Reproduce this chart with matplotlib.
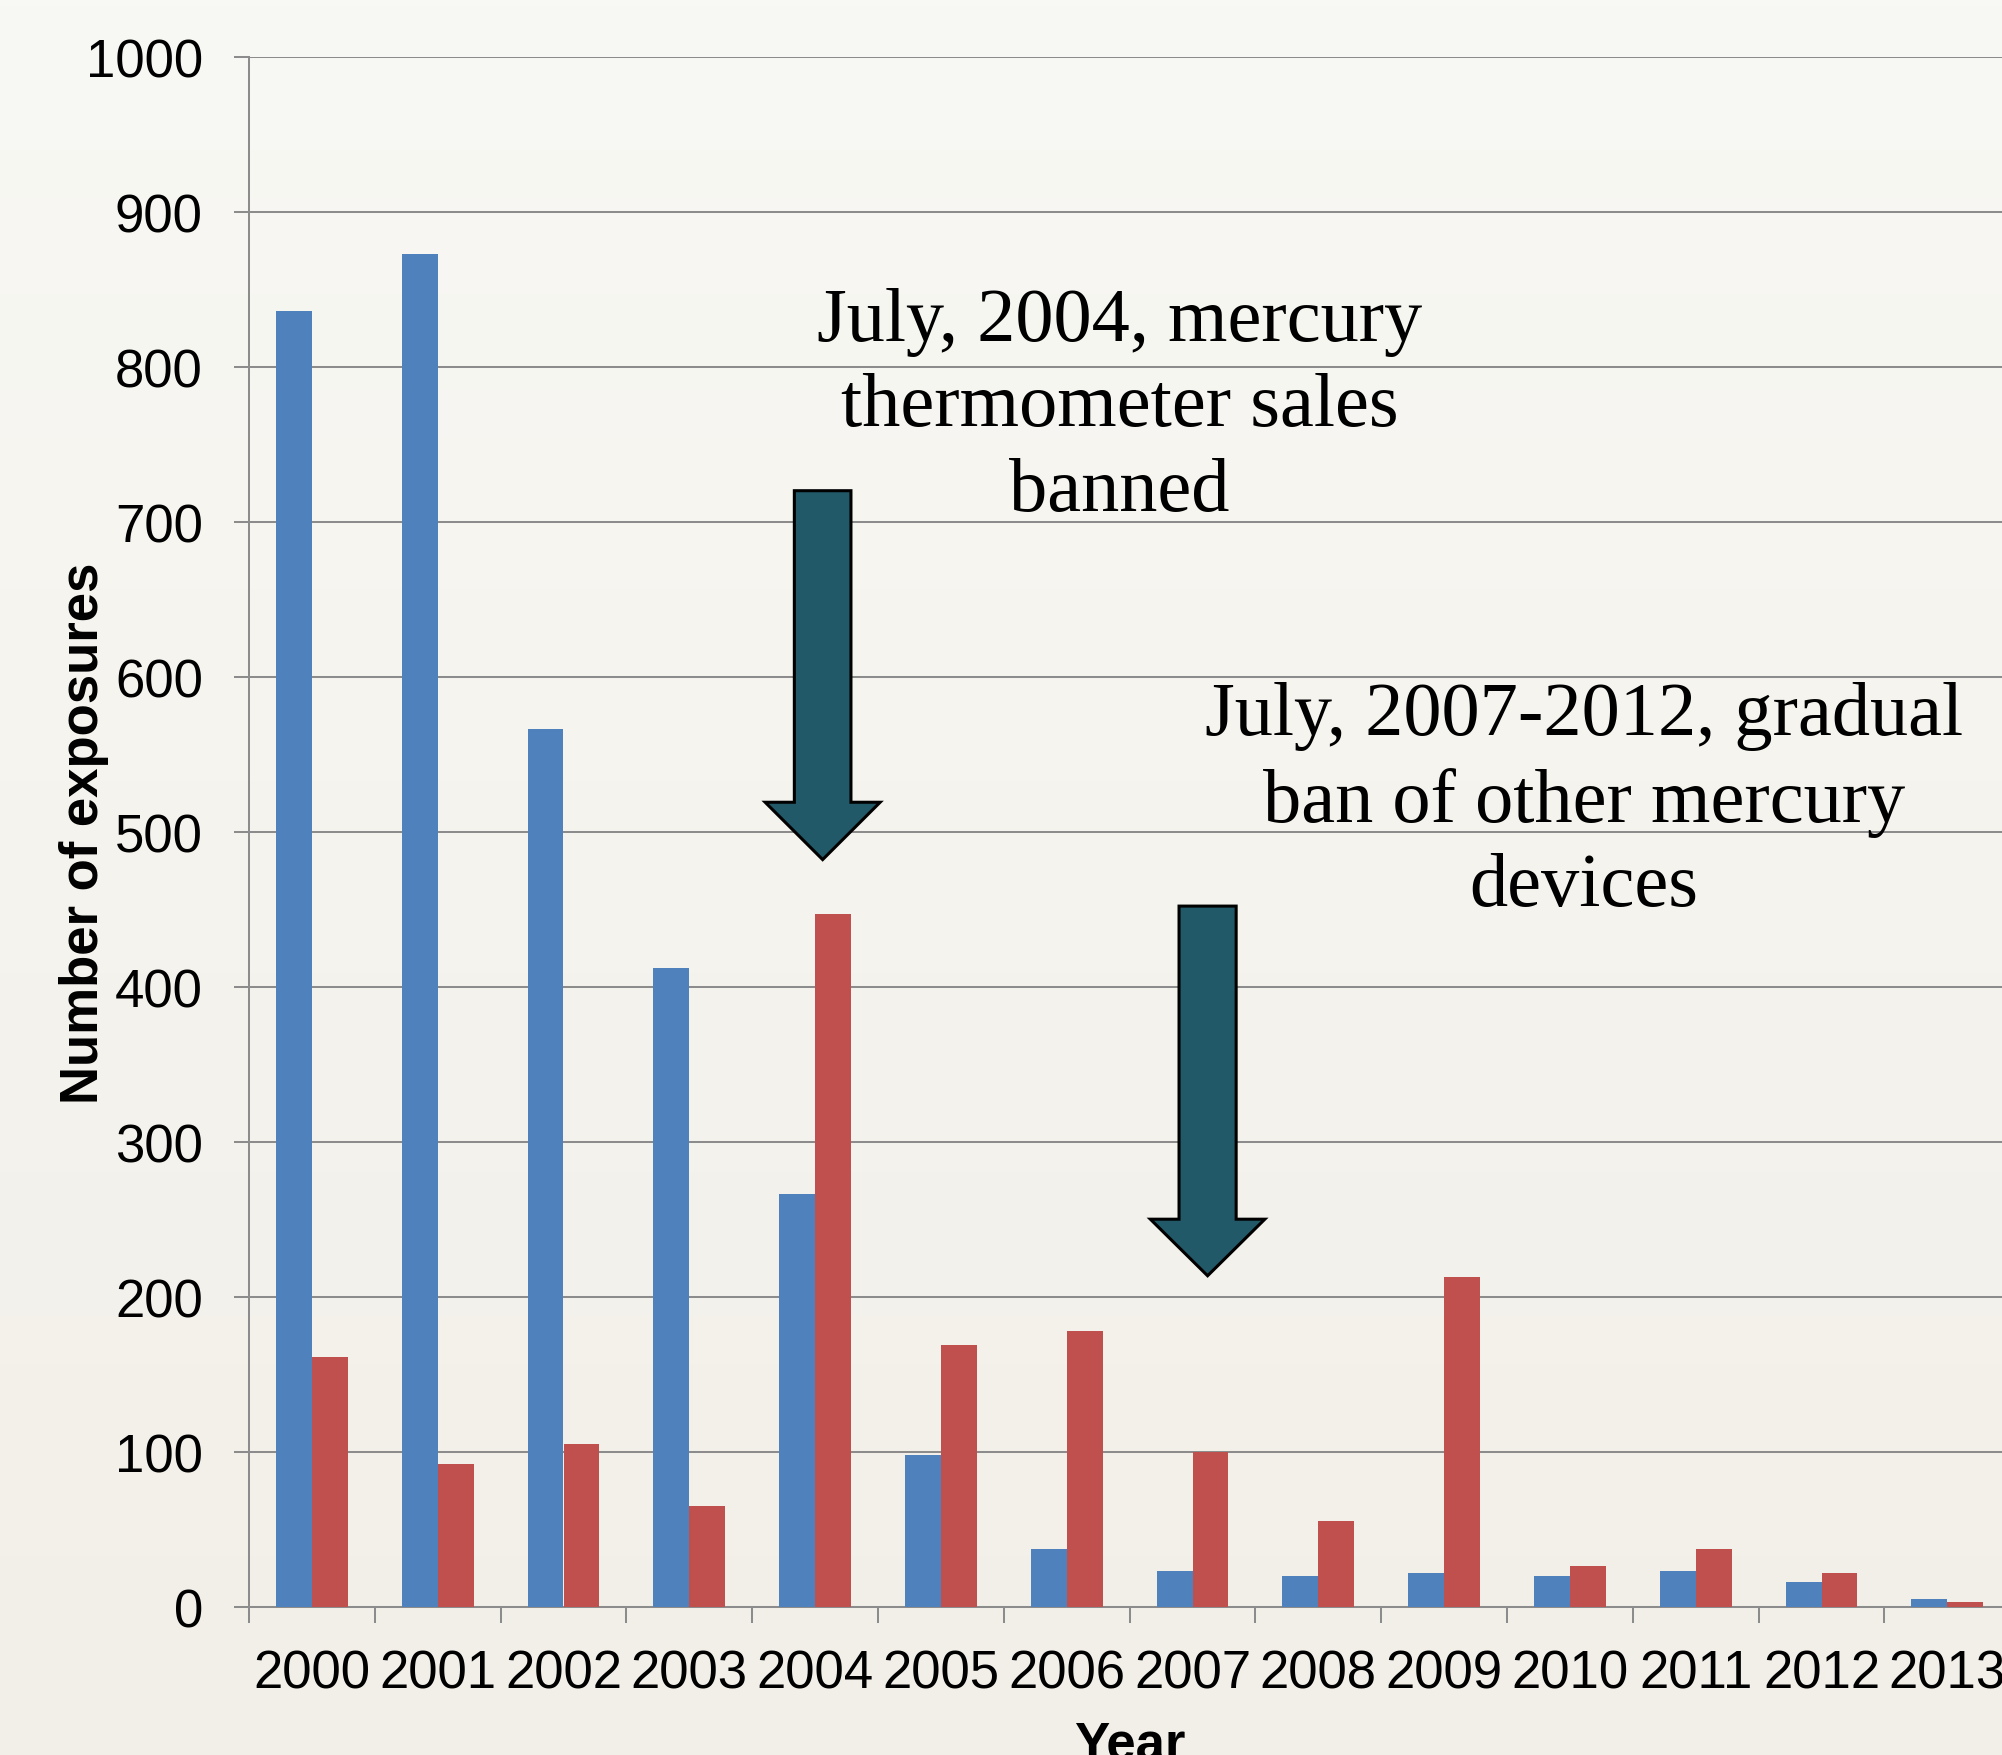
import numpy as np
import matplotlib
matplotlib.use("Agg")
import matplotlib.pyplot as plt
from matplotlib.patches import Polygon

# ---- data ----
years = ["2000", "2001", "2002", "2003", "2004", "2005", "2006",
         "2007", "2008", "2009", "2010", "2011", "2012", "2013"]
series_blue = [836, 873, 566, 412, 266, 98, 37, 23, 20, 22, 20, 23, 16, 5]
series_red = [161, 92, 105, 65, 447, 169, 178, 100, 55, 213, 26, 37, 22, 3]
y_ticks = [0, 100, 200, 300, 400, 500, 600, 700, 800, 900, 1000]

note1 = "July, 2004, mercury\nthermometer sales\nbanned"
note2 = "July, 2007-2012, gradual\nban of other mercury\ndevices"

BLUE = "#4F81BD"
RED = "#C0504D"
ARROW = "#215968"
GRID = "#8C8C8C"

W, H = 2002, 1756
fig = plt.figure(figsize=(W / 100, H / 100), dpi=100)

# background gradient
bg = fig.add_axes([0, 0, 1, 1], zorder=-10)
grad = np.linspace(0, 1, 256).reshape(-1, 1)
top = np.array([0xF8, 0xF8, 0xF4]) / 255
bot = np.array([0xF2, 0xEF, 0xE8]) / 255
img = top[None, None, :] * (1 - grad[:, :, None]) + bot[None, None, :] * grad[:, :, None]
bg.imshow(img, aspect="auto", extent=[0, 1, 0, 1])
bg.axis("off")

left = 249 / W
bottom = (H - 1607.7) / H
height = (1607.7 - 57.7) / H
width = (14 * 125.8) / W
ax = fig.add_axes([left, bottom, width, height])
ax.set_facecolor("none")

x = np.arange(len(years))
bw = 0.285
ax.bar(x - bw / 2, series_blue, width=bw, color=BLUE, zorder=3)
ax.bar(x + bw / 2, series_red, width=bw, color=RED, zorder=3)

ax.set_xlim(-0.5, len(years) - 0.5)
ax.set_ylim(0, 1000)

ax.set_axisbelow(True)
ax.yaxis.grid(True, color=GRID, linewidth=1.45)
ax.set_yticks(y_ticks)
ax.set_yticklabels([str(v) for v in y_ticks])

ax.set_xticks(x)
ax.set_xticklabels(years)
ax.set_xticks(np.arange(-0.5, len(years), 1.0), minor=True)

for lab in ax.get_xticklabels() + ax.get_yticklabels():
    lab.set_fontfamily("Liberation Sans")
    lab.set_fontsize(38)

ax.tick_params(axis="x", which="major", length=0, pad=30)
ax.tick_params(axis="x", which="minor", length=11.5, width=1.45, color=GRID, direction="out")
ax.tick_params(axis="y", which="major", length=10.8, width=1.45, color=GRID, direction="out", pad=22.5)

for s in ["top", "right"]:
    ax.spines[s].set_visible(False)
for s in ["left", "bottom"]:
    ax.spines[s].set_color(GRID)
    ax.spines[s].set_linewidth(1.45)

ax.set_xlabel("Year", fontfamily="Liberation Sans", fontsize=38, fontweight="bold", labelpad=15)
fig.text(84 / W, 1 - 833 / H, "Number of exposures", rotation=90, ha="center", va="center",
         fontfamily="Liberation Sans", fontsize=38, fontweight="bold")

# annotations (va='baseline' aligns the last line's baseline)
ax.text(6.42, 707.5, note1, ha="center", va="baseline", multialignment="center",
        fontfamily="Liberation Serif", fontsize=55, linespacing=1.3, zorder=5)
ax.text(10.11, 452.4, note2, ha="center", va="baseline", multialignment="center",
        fontfamily="Liberation Serif", fontsize=55, linespacing=1.3, zorder=5)


def down_arrow(xc, y_top, y_base, y_tip, shaft_hw, head_hw):
    verts = [(xc - shaft_hw, y_top), (xc + shaft_hw, y_top), (xc + shaft_hw, y_base),
             (xc + head_hw, y_base), (xc, y_tip), (xc - head_hw, y_base),
             (xc - shaft_hw, y_base)]
    ax.add_patch(Polygon(verts, closed=True, facecolor=ARROW, edgecolor="black",
                         linewidth=2.2, joinstyle="miter", zorder=6))


down_arrow(4.06, 720, 519, 482, 0.225, 0.457)
down_arrow(7.12, 452, 250, 213.5, 0.227, 0.455)

fig.savefig("out.png", dpi=100)
